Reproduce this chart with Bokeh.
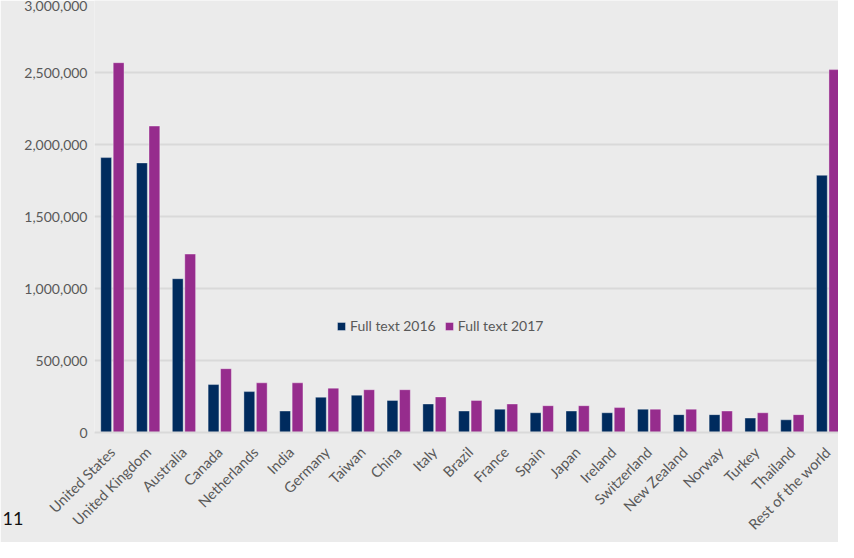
from bokeh.plotting import figure
from bokeh.models import ColumnDataSource, Range1d, FixedTicker, NumeralTickFormatter, Label
from bokeh.transform import dodge
from bokeh.embed import file_html
from bokeh.resources import INLINE
import math

countries = ["United States", "United Kingdom", "Australia", "Canada", "Netherlands",
             "India", "Germany", "Taiwan", "China", "Italy", "Brazil", "France", "Spain",
             "Japan", "Ireland", "Switzerland", "New Zealand", "Norway", "Turkey",
             "Thailand", "Rest of the world"]
full_text_2016 = [1909000, 1872000, 1068000, 333000, 284000, 149000, 245000, 259000,
                  223000, 198000, 149000, 162000, 137000, 149000, 137000, 162000,
                  124000, 124000, 100000, 88000, 1786000]
full_text_2017 = [2568000, 2128000, 1239000, 443000, 345000, 345000, 308000, 297000,
                  297000, 247000, 223000, 198000, 186000, 186000, 173000, 162000,
                  162000, 149000, 137000, 124000, 2520000]
y_ticks = [0, 500000, 1000000, 1500000, 2000000, 2500000, 3000000]
series_names = ["Full text 2016", "Full text 2017"]
series_colors = ["#002b5e", "#962c8d"]
page_number = "11"

idx = list(range(len(countries)))
source = ColumnDataSource(data=dict(idx=idx, country=countries,
                                    y2016=full_text_2016, y2017=full_text_2017))

BG = "#ebebeb"
FONT = "Lato"
TXT = "#595959"

p = figure(width=838, height=542, output_backend="svg", toolbar_location=None,
           x_range=Range1d(-0.5, 20.29), y_range=Range1d(0, 3000000),
           background_fill_color=BG, border_fill_color=BG,
           min_border_left=94, min_border_right=0, min_border_top=0, min_border_bottom=110)
p.outline_line_color = None

bw = 0.302
off = 0.174
p.vbar(x=dodge("idx", -off, range=p.x_range), top="y2016", width=bw, source=source,
       fill_color=series_colors[0], line_color="white", line_alpha=0.35, line_width=1,
       legend_label=series_names[0])
p.vbar(x=dodge("idx", off, range=p.x_range), top="y2017", width=bw, source=source,
       fill_color=series_colors[1], line_color="white", line_alpha=0.35, line_width=1,
       legend_label=series_names[1])

# x axis
p.xaxis.ticker = FixedTicker(ticks=idx)
p.xaxis.major_label_overrides = {i: c for i, c in zip(idx, countries)}
p.xaxis.major_label_orientation = math.pi / 4
p.xaxis.major_tick_line_color = None
p.xaxis.minor_tick_line_color = None
p.xaxis.axis_line_color = "#d9d9d9"
p.xaxis.axis_line_width = 2
p.xaxis.major_label_text_font = FONT
p.xaxis.major_label_text_font_size = "14.5px"
p.xaxis.major_label_text_color = TXT
p.xaxis.major_label_standoff = 11
p.xgrid.grid_line_color = None

# y axis
p.yaxis.ticker = FixedTicker(ticks=y_ticks)
p.yaxis.formatter = NumeralTickFormatter(format="0,0")
p.yaxis.axis_line_color = None
p.yaxis.major_tick_line_color = None
p.yaxis.minor_tick_line_color = None
p.yaxis.major_label_text_font = FONT
p.yaxis.major_label_text_font_size = "14px"
p.yaxis.major_label_text_color = TXT
p.yaxis.major_label_standoff = 1
p.ygrid.ticker = FixedTicker(ticks=y_ticks)
p.ygrid.grid_line_color = "#d9d9d9"
p.ygrid.grid_line_width = 2

# legend
lg = p.legend[0]
lg.orientation = "horizontal"
lg.location = (242, 98)
lg.background_fill_alpha = 0
lg.border_line_color = None
lg.padding = 0
lg.margin = 0
lg.spacing = 8
lg.glyph_width = 10
lg.glyph_height = 10
lg.label_standoff = 4
lg.label_text_font = FONT
lg.label_text_font_size = "14px"
lg.label_text_color = TXT

# page number of the source document, in a side panel so it is not clipped to the frame
p.add_layout(Label(x=-3.07, y=-640000, text=page_number,
                   text_font=FONT, text_font_size="18px", text_color="#111111",
                   text_baseline="bottom"), "left")

open("out.html", "w").write(file_html(p, INLINE))
